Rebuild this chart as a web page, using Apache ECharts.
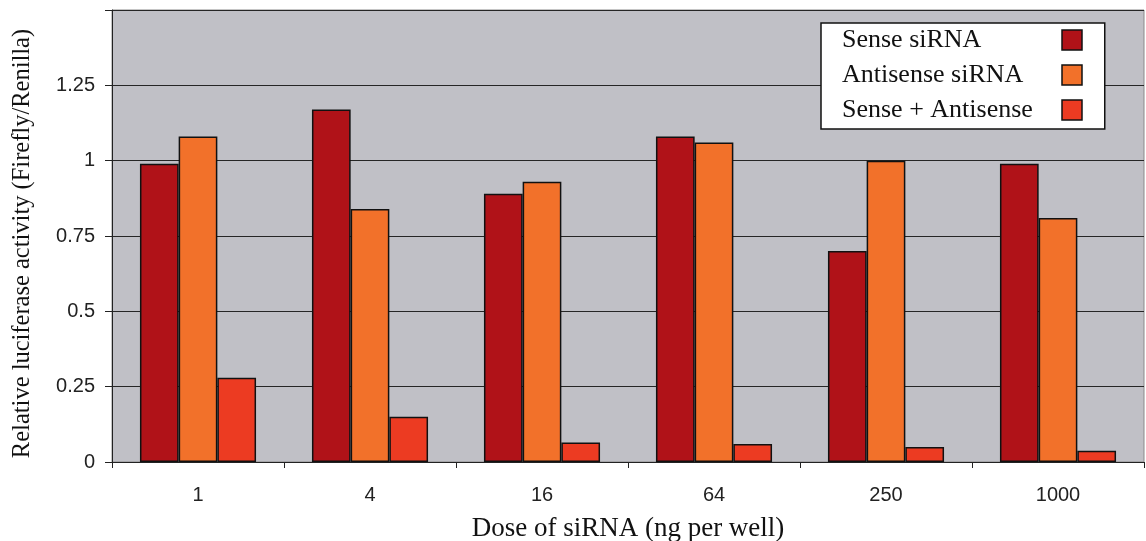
<!DOCTYPE html>
<html>
<head>
<meta charset="utf-8">
<title>Relative luciferase activity by siRNA dose</title>
<script src="https://cdn.jsdelivr.net/npm/echarts@6/dist/echarts.min.js"></script>
<style>
  html, body { margin: 0; padding: 0; background: #ffffff; }
  #chart { width: 1146px; height: 541px; }
</style>
</head>
<body>
<div id="chart"></div>
<script>
// Dose of siRNA (ng per well)
const doses = ['1', '4', '16', '64', '250', '1000'];

// Relative luciferase activity (Firefly/Renilla)
const senseSiRNA     = [0.99, 1.17, 0.89, 1.08, 0.70, 0.99];
const antisenseSiRNA = [1.08, 0.84, 0.93, 1.06, 1.00, 0.81];
const senseAntisense = [0.28, 0.15, 0.065, 0.06, 0.05, 0.037];

const seriesNames = ['Sense siRNA', 'Antisense siRNA', 'Sense + Antisense'];
const seriesColors = ['#b01218', '#f2712a', '#ec3b22'];

const SERIF = '"Liberation Serif", "Times New Roman", serif';
const SANS = '"Liberation Sans", Arial, sans-serif';

const chart = echarts.init(document.getElementById('chart'), null, { renderer: 'canvas' });

const barStyle = (color) => ({
  color: color,
  borderColor: '#111111',
  borderWidth: 1.5
});

chart.setOption({
  animation: false,
  backgroundColor: '#ffffff',
  grid: {
    left: 112,
    right: 2,
    top: 10,
    bottom: 79,
    outerBoundsMode: 'none',
    containLabel: false,
    show: true,
    backgroundColor: '#c0c0c6',
    borderColor: '#8a8a8a',
    borderWidth: 1
  },
  legend: {
    orient: 'vertical',
    align: 'right',
    left: 821,
    top: 23,
    padding: [4, 22, 6, 21],
    itemWidth: 20,
    itemHeight: 20,
    itemGap: 9,
    backgroundColor: '#ffffff',
    borderColor: '#111111',
    borderWidth: 1.5,
    icon: 'rect',
    itemStyle: { borderColor: '#111111', borderWidth: 1.5 },
    data: seriesNames,
    formatter: (name) => '{t|' + name + '}',
    textStyle: {
      rich: {
        t: {
          width: 215,
          align: 'left',
          fontFamily: SERIF,
          fontSize: 26,
          lineHeight: 22,
          color: '#111111'
        }
      }
    }
  },
  xAxis: {
    type: 'category',
    data: doses,
    name: 'Dose of siRNA (ng per well)',
    nameLocation: 'middle',
    nameGap: 53,
    nameTextStyle: { fontFamily: SERIF, fontSize: 27, color: '#111111' },
    axisLine: { show: true, lineStyle: { color: '#222222', width: 1 } },
    axisTick: { show: true, length: 6, lineStyle: { color: '#222222' } },
    axisLabel: { fontFamily: SANS, fontSize: 20, color: '#222222', margin: 23 }
  },
  yAxis: {
    type: 'value',
    min: 0,
    max: 1.5,
    interval: 0.25,
    name: 'Relative luciferase activity (Firefly/Renilla)',
    nameLocation: 'middle',
    nameGap: 77,
    nameTextStyle: { fontFamily: SERIF, fontSize: 24.5, color: '#111111', padding: [0, 15, 0, 0] },
    axisLine: { show: true, lineStyle: { color: '#222222', width: 1 } },
    axisTick: { show: true, length: 7, lineStyle: { color: '#222222' } },
    axisLabel: {
      fontFamily: SANS,
      fontSize: 20,
      color: '#222222',
      margin: 17,
      formatter: (v) => (v >= 1.5 ? '' : String(v))
    },
    splitLine: { show: true, lineStyle: { color: '#262626', width: 1 } }
  },
  series: [
    {
      name: seriesNames[0],
      type: 'bar',
      data: senseSiRNA,
      barGap: '0%',
      barCategoryGap: '32.5%',
      itemStyle: barStyle(seriesColors[0])
    },
    {
      name: seriesNames[1],
      type: 'bar',
      data: antisenseSiRNA,
      barGap: '0%',
      barCategoryGap: '32.5%',
      itemStyle: barStyle(seriesColors[1])
    },
    {
      name: seriesNames[2],
      type: 'bar',
      data: senseAntisense,
      barGap: '0%',
      barCategoryGap: '32.5%',
      itemStyle: barStyle(seriesColors[2])
    }
  ]
});
</script>
</body>
</html>
